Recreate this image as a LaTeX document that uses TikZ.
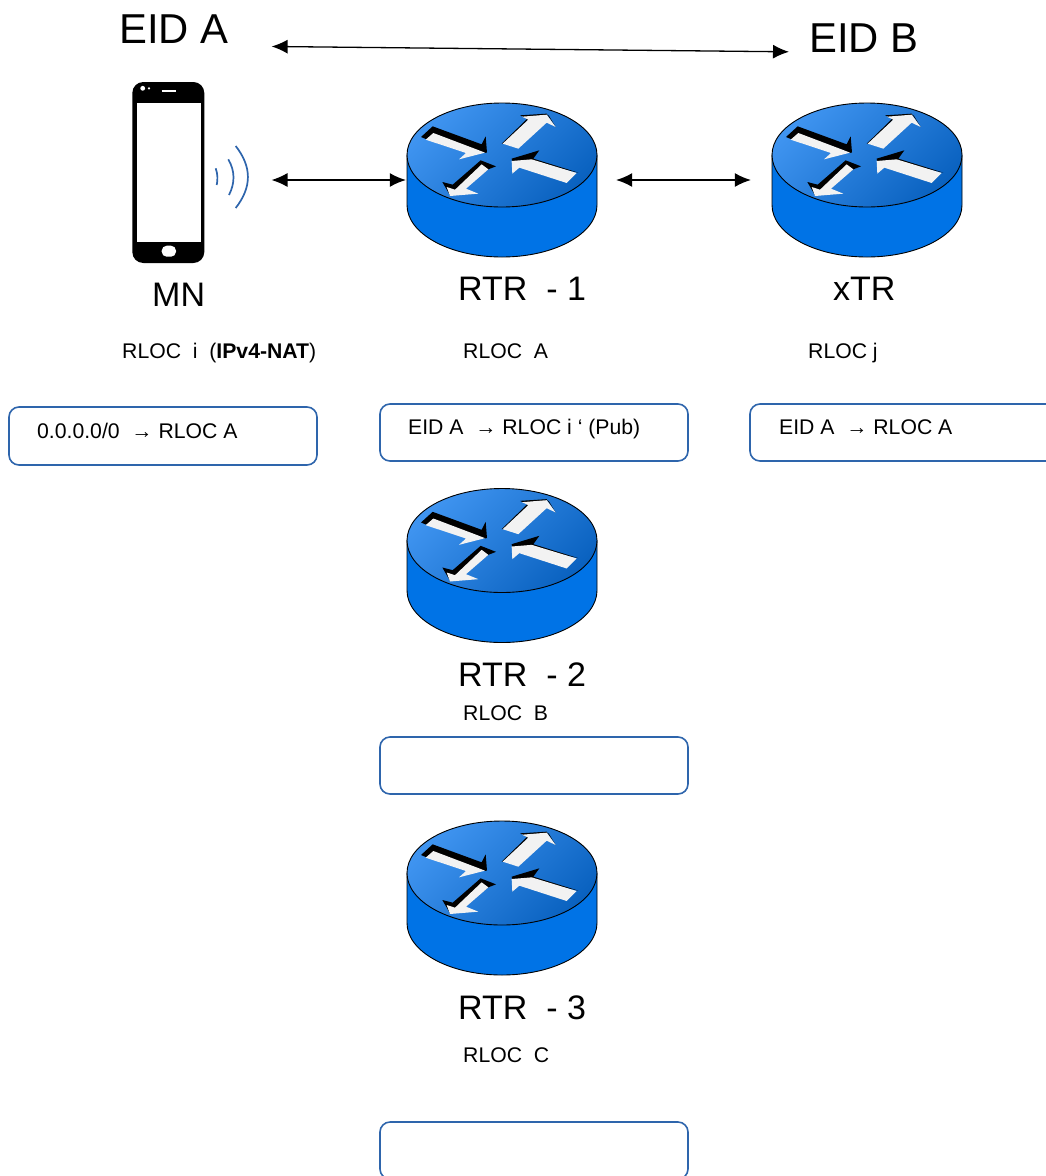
\documentclass[tikz,border=0pt]{standalone}
\usepackage{fontspec}
\setmainfont{Liberation Sans}
\usetikzlibrary{arrows.meta}
\definecolor{routerside}{HTML}{0073E6}
\definecolor{routerlight}{HTML}{3F94F0}
\definecolor{routerdark}{HTML}{0A62C0}
\definecolor{boxline}{HTML}{2E65AC}
\definecolor{arrowwhite}{HTML}{F2F2F2}
\tikzset{
    router/.pic={
        \draw[fill=routerside,line width=0.9pt] (-95,-25) -- (-95,25)
            arc[start angle=180,end angle=360,x radius=95pt,y radius=52pt] -- (95,-25) -- cycle;
        \draw[line width=0.9pt,top color=routerlight,bottom color=routerdark,shading angle=45]
            (0,-25) ellipse[x radius=95pt,y radius=52pt];
        \begin{scope}[x=0.3333pt,y=-0.3333pt,yshift=24pt]
            \fill (-243,-57) -- (-208,-89) -- (-61,-35) -- (-49,-59) -- (-45,-10) -- (-96,-7) -- (-231,-52) -- cycle;
            \fill[arrowwhite] (-229,-49) -- (-206,-69) -- (-74,-19) -- (-51,-10) -- (-129,10) -- (-108,-9) -- cycle;
            \fill (-1,-37) -- (76,-112) -- (54,-122) -- (134,-127) -- (161,-87) -- (140,-122) -- (79,-109) -- (4,-37) -- cycle;
            \fill[arrowwhite] (2,-37) -- (79,-109) -- (60,-118) -- (134,-124) -- (161,-87) -- (134,-100) -- (49,-22) -- cycle;
            \fill (-64,13) -- (-18,31) -- (-41,40) -- (-126,103) -- (-156,118) -- (-179,78) -- (-148,86) -- cycle;
            \fill[arrowwhite] (-41,40) -- (-108,98) -- (-71,113) -- (-156,120) -- (-166,93) -- (-141,101) -- (-61,25) -- cycle;
            \fill (229,50) -- (94,8) -- (112,-17) -- (29,8) -- (31,20) -- (95,20) -- cycle;
            \fill[arrowwhite] (29,15) -- (31,53) -- (52,35) -- (194,81) -- (224,51) -- (89,10) -- cycle;
        \end{scope}
    }
}
\begin{document}
\begin{tikzpicture}[
            x=1pt,y=-1pt,
            routerspot/.style={minimum width=190pt,minimum height=154pt,inner sep=0pt},
            tablebox/.style={draw=boxline,line width=1.6pt,rounded corners=10pt,minimum width=308pt,minimum height=57pt,inner sep=0pt},
            biarrow/.style={line width=1.3pt,{Latex[width=14pt,length=16pt]}-{Latex[width=14pt,length=16pt]}},
            bigtext/.style={anchor=base west,inner sep=0pt,font=\fontsize{41.8}{42}\selectfont},
            nametext/.style={anchor=base west,inner sep=0pt,font=\fontsize{34}{35}\selectfont},
            smalltext/.style={anchor=base west,inner sep=0pt,font=\fontsize{21.2}{22}\selectfont},
            wave/.style={boxline,line width=1.7pt}
            ]
            \useasboundingbox[clip] (0,0) rectangle (1046,1176);
            % top line
            \node[bigtext] (eida) at (119,43) {EID A};
            \node[bigtext] (eidb) at (809,52) {EID B};
            \draw[biarrow,shorten <=43pt,shorten >=20pt] ([yshift=-17.4pt]eida.east) -- ([yshift=-14.4pt]eidb.west);
            % phone
            \node[fill=black,rounded corners=11pt,minimum width=72pt,minimum height=181pt,inner sep=0pt] (mn) at (168.3,172.5) {};
            \fill[white] (136.7,102.7) rectangle (201,241.7);
            \fill[white] (142.7,88.3) circle[radius=2.4pt];
            \fill[white] (149,88.3) circle[radius=1.2pt];
            \draw[white,line width=2pt] (161.7,90.7) -- (176,90.7);
            \fill[white,rounded corners=5pt] (161.7,245.7) rectangle (176,256.7);
            \draw[wave] (215.7,168.3) .. controls (217.8,174) and (217.8,180) .. (216.7,185);
            \draw[wave] (228.3,159.3) .. controls (235.1,171) and (235.1,183) .. (229,195);
            \draw[wave] (235.7,146) .. controls (252,167) and (252,187) .. (235.7,208);
            % routers
            \node[routerspot] (rtr1) at (502,180) {};
            \node[routerspot] (xtr) at (867,180) {};
            \node[routerspot] (rtr2) at (502,565.5) {};
            \node[routerspot] (rtr3) at (502,898) {};
            \pic at (rtr1) {router};
            \pic at (xtr) {router};
            \pic at (rtr2) {router};
            \pic at (rtr3) {router};
            \draw[biarrow,shorten <=67pt,shorten >=1pt] ([yshift=-7.5pt]mn.east) -- (rtr1.west);
            \draw[biarrow,shorten <=19pt,shorten >=21pt] (rtr1.east) -- (xtr.west);
            % names
            \node[nametext] (mnname) at (152,306) {MN};
            \node[nametext] (rtr1name) at (458,300) {RTR\ \ - 1};
            \node[nametext] (xtrname) at (833,300) {xTR};
            \node[nametext] (rtr2name) at (458,686) {RTR\ \ - 2};
            \node[nametext] (rtr3name) at (458,1019) {RTR\ \ - 3};
            % rlocs
            \node[smalltext] (rloci) at (122,358) {RLOC\ \ i\ \ (\textbf{IPv4-NAT})};
            \node[smalltext] (rloca) at (463,358) {RLOC\ \ A};
            \node[smalltext] (rlocj) at (808,358) {RLOC j};
            \node[smalltext] (rlocb) at (463,720) {RLOC\ \ B};
            \node[smalltext] (rlocc) at (463,1062) {RLOC\ \ C};
            % tables
            \node[tablebox,minimum height=58pt] (mnbox) at (163,436) {};
            \node[tablebox] (rtr1box) at (534,432.5) {};
            \node[tablebox] (xtrbox) at (904,432.5) {};
            \node[tablebox] (rtr2box) at (534,765.5) {};
            \node[tablebox] (rtr3box) at (534,1150.5) {};
            \node[smalltext] (mnentry) at (37,438) {0.0.0.0/0\ \ → RLOC A};
            \node[smalltext] (rtr1entry) at (408,434) {EID A\ \ → RLOC i ‘ (Pub)};
            \node[smalltext] (xtrentry) at (779,434) {EID A\ \ → RLOC A};
        \end{tikzpicture}
\end{document}
